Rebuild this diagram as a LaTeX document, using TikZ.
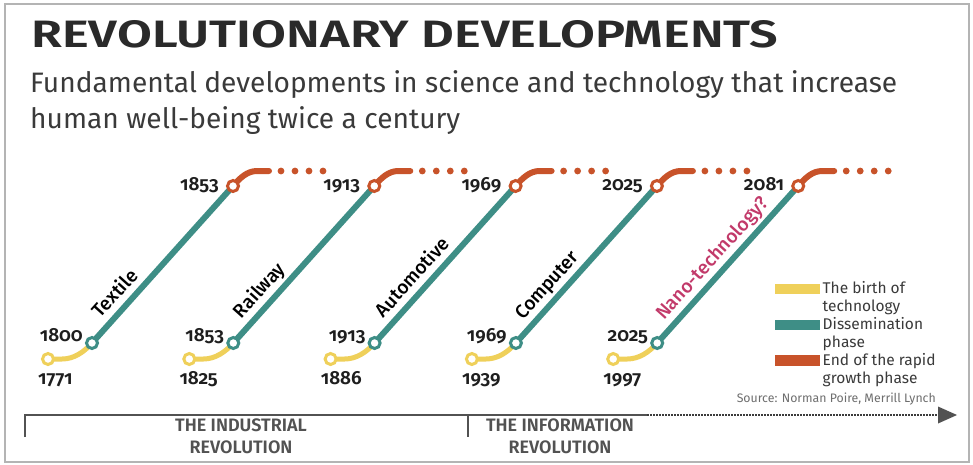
\documentclass[tikz,border=0pt]{standalone}
\usepackage{graphicx}
\usepackage{fontspec}
\setmainfont{Fira Sans}
\usetikzlibrary{calc}
\newcommand\yrf{}
\newcommand\mdf{}
\newcommand\sbf{}
\IfFontExistsTF{Fira Sans SemiBold}
  {\newfontfamily\FSsemi[Numbers=OldStyle]{Fira Sans SemiBold}\newfontfamily\FSsemiL{Fira Sans SemiBold}\renewcommand\yrf{\FSsemi}\renewcommand\sbf{\FSsemiL}}
  {\newfontfamily\FSold[Numbers=OldStyle]{Fira Sans}\renewcommand\yrf{\FSold\bfseries}\renewcommand\sbf{\bfseries}}
\IfFontExistsTF{Fira Sans Medium}
  {\newfontfamily\FSmed{Fira Sans Medium}\renewcommand\mdf{\FSmed}}
  {\renewcommand\mdf{\bfseries}}
\definecolor{cyel}{HTML}{EFD05A}
\definecolor{cgrn}{HTML}{3E8E86}
\definecolor{corg}{HTML}{C8532A}
\definecolor{cmag}{HTML}{C23A6A}
\definecolor{ctitle}{HTML}{2A2A2A}
\definecolor{csub}{HTML}{3A3A3A}
\definecolor{cyear}{HTML}{1E1E1E}
\definecolor{caxis}{HTML}{525252}
\definecolor{cdots}{HTML}{3C3C3C}
\definecolor{cframe}{HTML}{B4B4B4}
\definecolor{csrc}{HTML}{6E6E6E}
\begin{document}
\begin{tikzpicture}[x=1pt,y=-1pt,
  grn/.style={cgrn, line width=6pt},
  yel/.style={cyel, line width=5pt, line cap=round},
  org/.style={corg, line width=6pt, line cap=round},
  ring/.style={circle, draw=#1, fill=white, line width=3pt, minimum size=11pt, inner sep=0pt},
  yrlbl/.style={inner sep=0pt, text=cyear, font=\yrf\fontsize{19}{19}\selectfont},
  serlbl/.style={inner sep=0pt, rotate=48.07, anchor=base, font=\mdf\fontsize{19}{19}\selectfont},
  legbar/.style={rectangle, inner sep=0pt, minimum width=45pt, minimum height=10.5pt},
  legtxt/.style={inner sep=0pt, anchor=base west, text=csub, font=\fontsize{15.5}{15.5}\selectfont},
  axtxt/.style={inner sep=0pt, anchor=base, text=caxis, font=\sbf\fontsize{18}{18}\selectfont},
  axline/.style={caxis, line width=2.5pt}
]
\useasboundingbox (0,0) rectangle (973,464);
\fill[white] (0,0) rectangle (973,464);
\draw[cframe, line width=2pt] (4.5,4) rectangle (968.5,461.5);

% title and subtitle
\node[anchor=base west, inner sep=0pt, text=ctitle] (title) at (31,47.7)
  {\resizebox{747pt}{27pt}{\sbf REVOLUTIONARY DEVELOPMENTS}};
\node[anchor=base west, inner sep=0pt, text=csub] (subtitle) at (30,92)
  {\resizebox{867pt}{!}{\fontsize{21}{27}\selectfont\begin{tabular}[t]{@{}l@{}}Fundamental developments in science and technology that increase\\human well-being twice a century\end{tabular}}};

% the five technology lines
\foreach \i/\ylo/\ymid/\ytop/\lbl/\tc/\lc in {0/1771/1800/1853/Textile/52.6/black,
    1/1825/1853/1913/Railway/56.7/black,
    2/1886/1913/1969/Automotive/74.4/black,
    3/1939/1969/2025/Computer/63.7/black,
    4/1997/2025/2081/Nano-technology?/100/cmag}{
  \pgfmathsetmacro\dx{141.3*\i}
  \coordinate (Y\i) at (48+\dx,359);
  \coordinate (G\i) at (92+\dx,343);
  \coordinate (O\i) at (233+\dx,186);
  \draw[grn] (G\i) -- (O\i);
  \draw[yel] (Y\i) -- ++(14,0) .. controls +(12,0) and +(-8,9) .. (G\i);
  \draw[org] (O\i) .. controls +(7,-8) and +(-10,0) .. ++(24,-15) -- ++(12,0);
  \foreach \k in {48,62,76,90}
    \fill[corg] ($(O\i)+(\k,-15)$) circle[radius=3.4pt];
  \node[ring=cyel] (Yc\i) at (Y\i) {};
  \node[ring=cgrn] (Gc\i) at (G\i) {};
  \node[ring=corg] (Oc\i) at (O\i) {};
  \node[yrlbl, anchor=base east] (ym\i) at ($(G\i)+(-9,-2)$) {\ymid};
  \node[yrlbl, anchor=base west] (yl\i) at ($(Y\i)+(-10,25)$) {\ylo};
  \node[yrlbl, anchor=base east] (yt\i) at ($(O\i)+(-14,4)$) {\ytop};
  \node[serlbl, text=\lc] (s\i) at ($($(G\i)!{\tc/211}!(O\i)$)+(-7.1,-6.35)$) {\lbl};
}

% legend
\node[legbar, fill=cyel] (lb1) at (797.5,288.8) {};
\node[legbar, fill=cgrn] (lb2) at (797.5,324.8) {};
\node[legbar, fill=corg] (lb3) at (797.5,360.3) {};
\node[legtxt] (lt1a) at (822.5,293) {The birth of};
\node[legtxt] (lt1b) at (822.5,311) {technology};
\node[legtxt] (lt2a) at (822.5,329) {Dissemination};
\node[legtxt] (lt2b) at (822.5,347) {phase};
\node[legtxt] (lt3a) at (822.5,365) {End of the rapid};
\node[legtxt] (lt3b) at (822.5,383) {growth phase};
\node[inner sep=0pt, anchor=base east, text=csrc, font=\fontsize{12.3}{12.3}\selectfont] (src) at (936,402) {Source: Norman Poire, Merrill Lynch};

% time axis
\coordinate (axL) at (25,415);
\coordinate (axLb) at (25,437);
\coordinate (axM) at (468,415);
\coordinate (axMb) at (468,437);
\coordinate (axS) at (647,415);
\coordinate (axE) at (940,415);
\coordinate (axT) at (957,415);
\draw[axline] (axLb) -- (axL) -- (axS);
\draw[axline] (axM) -- (axMb);
\draw[cdots, line width=2.2pt, dash pattern=on 1.6pt off 1.4pt] (axS) -- (axE);
\fill[caxis] (axT) -- ($(axT)+(-19,-8.5)$) -- ($(axT)+(-19,8.5)$) -- cycle;
\node[axtxt] (ind1) at (241,431.5) {THE INDUSTRIAL};
\node[axtxt] (ind2) at (241,453) {REVOLUTION};
\node[axtxt] (inf1) at (560,431.5) {THE INFORMATION};
\node[axtxt] (inf2) at (560,453) {REVOLUTION};
\end{tikzpicture}
\end{document}
